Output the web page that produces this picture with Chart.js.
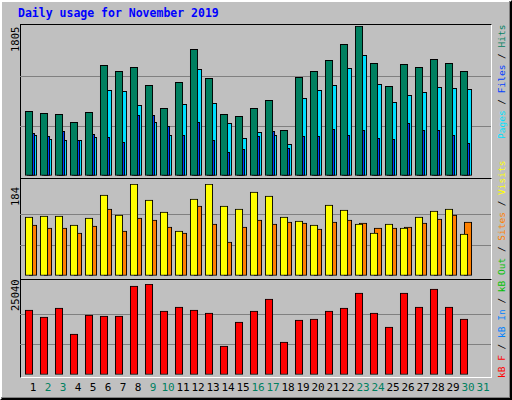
<!DOCTYPE html>
<html><head><meta charset="utf-8">
<script src="https://cdn.jsdelivr.net/npm/chart.js@4"></script>
<style>
body{margin:0;width:512px;height:400px;background:#c0c0c0;position:relative;overflow:hidden;font-family:"DejaVu Sans Mono",monospace}
#outer{position:absolute;left:0;top:0;width:508px;height:396px;border:2px solid;border-color:#fff #000 #000 #fff}
#outer2{position:absolute;left:1px;top:1px;width:508px;height:396px;border:1px solid #808080;border-left:none;border-top:none}
.frame{position:absolute;left:20px;width:470px;border:1px solid;border-color:#000 #fff #fff #000}
canvas{position:absolute}
.lbl{position:absolute;font-size:11px;white-space:nowrap}
.rot{position:absolute;transform-origin:0 0;transform:rotate(-90deg);white-space:nowrap;font-size:9.5px}
</style></head><body>
<div id="outer"></div><div id="outer2"></div>
<div class="lbl" style="left:18px;top:6px;color:#0000ff;font-weight:bold;font-size:11.5px">Daily usage for November 2019</div>
<div class="frame" style="top:24px;height:153px"></div>
<div class="frame" style="top:178px;height:100px"></div>
<div class="frame" style="top:279px;height:97px"></div>
<div class="rot" style="left:9px;top:52px;font-size:10.5px">1805</div>
<div class="rot" style="left:9px;top:206px;font-size:10.5px">184</div>
<div class="rot" style="left:9px;top:311px;font-size:10.5px">25040</div>
<div class="rot" style="left:496px;top:139px"><span style="color:#00e0ff">Pages</span> / <span style="color:#0040ff">Files</span> / <span style="color:#008060">Hits</span></div>
<div class="rot" style="left:496px;top:378px"><span style="color:#ff0000">kB F</span> / <span style="color:#0080ff">kB In</span> / <span style="color:#00c000">kB Out</span> / <span style="color:#ff8000">Sites</span> / <span style="color:#ffff00">Visits</span></div>
<canvas id="c1" style="left:20px;top:26px;width:471px;height:150px" width="471" height="150"></canvas>
<canvas id="c2" style="left:20px;top:184px;width:471px;height:92px" width="471" height="92"></canvas>
<canvas id="c3" style="left:20px;top:284px;width:471px;height:91px" width="471" height="91"></canvas>
<div id="days"></div>
<script>
const days=[1,2,3,4,5,6,7,8,9,10,11,12,13,14,15,16,17,18,19,20,21,22,23,24,25,26,27,28,29,30,31];
const weekend=[2,3,9,10,16,17,23,24,30,31];
const hits=[778,754,742,646,766,1332,1259,1308,1091,814,1127,1524,1175,742,718,814,910,550,1187,1259,1392,1584,1805,1356,1079,1344,1308,1404,1356,1259];
const files=[489,441,429,429,465,1031,1019,850,646,489,862,1284,874,634,453,525,489,381,935,1031,1091,1296,1452,1103,886,971,1007,1067,1055,1043];
const pages=[513,477,537,429,501,465,405,730,730,598,489,646,429,285,321,477,537,333,477,477,562,489,550,453,441,634,550,550,489,393];
const visits=[118,120,120,102,116,162,122,184,152,128,90,154,184,140,134,168,160,118,110,102,142,132,104,86,104,96,118,130,134,84];
const sites=[102,96,96,86,100,134,90,116,112,98,86,140,104,68,98,112,104,108,106,94,108,112,106,96,96,98,106,114,122,108];
const kbytes=[17880,15960,18430,11280,16510,16230,16230,24480,25040,17610,18710,17880,17060,7980,14580,17610,20910,9080,15130,15410,17610,18430,22560,17060,13200,22560,18710,23660,18710,15410];

const dd=document.getElementById('days');
days.forEach(d=>{const s=document.createElement('div');s.className='lbl';s.textContent=d;
 s.style.cssText=`left:${18+15*d-10}px;width:20px;text-align:center;top:381px;font-size:11px;color:${weekend.includes(d)?'#008060':'#000'}`;dd.appendChild(s);});

function ds(vals,off,color){return{data:vals.map((v,i)=>({x:i+1+off,y:v})),backgroundColor:color,borderColor:'#000',borderWidth:1,barThickness:7.5,grouped:false,borderSkipped:false};}
function make(id,sets,max){
 new Chart(document.getElementById(id),{type:'bar',data:{datasets:sets},
 options:{responsive:false,animation:false,layout:{padding:0},plugins:{legend:{display:false},tooltip:{enabled:false}},
 scales:{x:{type:'linear',offset:false,bounds:'ticks',min:2/15,max:2/15+31.4,display:false},
  y:{min:0,max:max,display:true,border:{display:false},ticks:{display:false,stepSize:max/3},
   grid:{drawTicks:false,color:c=>(c.index===1||c.index===2)?'#808080':'rgba(0,0,0,0)',lineWidth:1}}}}});
}
make('c1',[ds(hits,-4/15,'#008060'),ds(pages,-2/15,'#0040ff'),ds(files,0,'#00e0ff')],1805);
make('c2',[ds(visits,-4/15,'#ffff00'),ds(sites,0,'#ff8000')],184);
make('c3',[ds(kbytes,-4/15,'#ff0000')],25040);
</script></body></html>
